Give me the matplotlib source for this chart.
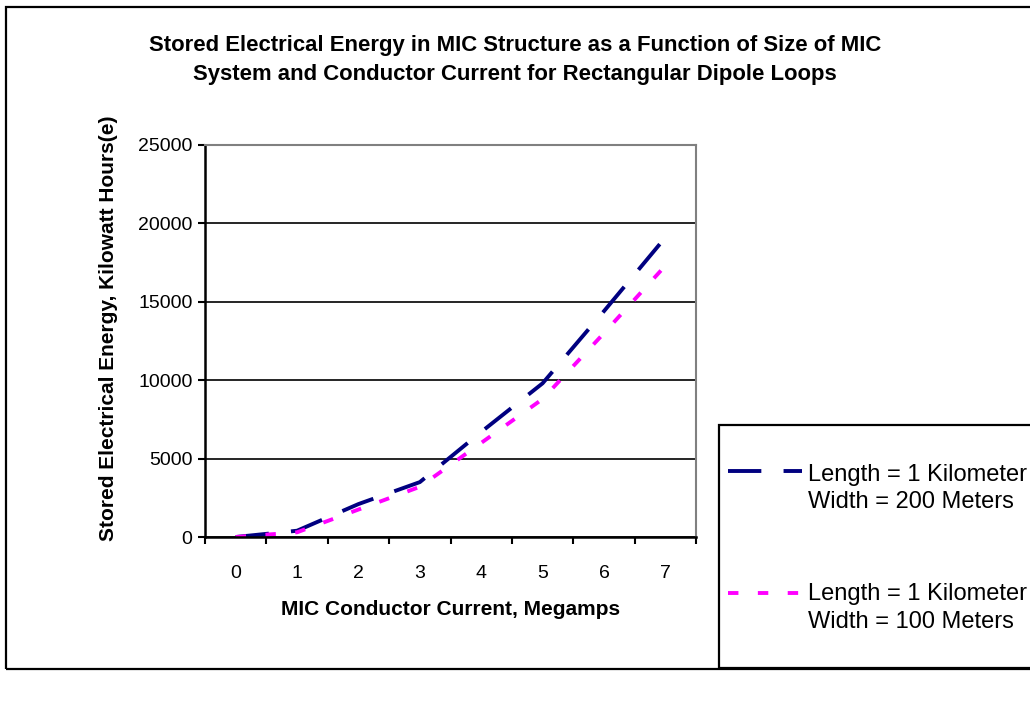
import numpy as np
import matplotlib
matplotlib.use("Agg")
from matplotlib import pyplot as plt
from matplotlib.patches import Rectangle
from matplotlib.lines import Line2D

plt.rcParams['font.family'] = ['Liberation Sans', 'DejaVu Sans']

# datos
corriente = [0, 1, 2, 3, 4, 5, 6, 7]
energia_200m = [0, 400, 2100, 3500, 6700, 9800, 14400, 19100]
energia_100m = [0, 300, 1750, 3200, 6000, 8800, 13000, 17300]
etiquetas = ["Length = 1 Kilometer\nWidth = 200 Meters",
             "Length = 1 Kilometer\nWidth = 100 Meters"]
yticks = [0, 5000, 10000, 15000, 20000, 25000]

W, H = 1030, 702
AZUL = '#000080'
MAGENTA = '#FF00FF'
LW = 2.8
fig = plt.figure(figsize=(W / 100, H / 100), dpi=100)

# pasar pixeles (desde arriba a la izquierda) a coordenadas de figura
def fx(x):
    return x / W

def fy(y):
    return 1 - y / H

# borde exterior del grafico (se sale por la derecha)
fig.patches.append(Rectangle((fx(6), fy(669)), 1.1, (669 - 7) / H,
                             transform=fig.transFigure, fill=False,
                             edgecolor='black', linewidth=1.6, clip_on=False))

ax = fig.add_axes([fx(205), fy(537), (696 - 205) / W, (537 - 145) / H])

estilo_azul = dict(color=AZUL, linewidth=LW, dashes=(24 / LW, 16 / LW), dash_capstyle='butt')
estilo_mag = dict(color=MAGENTA, linewidth=LW, dashes=(7.5 / LW, 14 / LW), dash_capstyle='butt')

ax.plot(corriente, energia_200m, **estilo_azul)
ax.plot(corriente, energia_100m, **estilo_mag)

ax.set_xlim(-0.5, 7.5)
ax.set_ylim(0, 25000)
ax.set_xticks(corriente)
ax.set_xticks(np.arange(-0.5, 8, 1), minor=True)
ax.tick_params(axis='x', which='major', length=0, labelsize=14, pad=20)
ax.tick_params(axis='x', which='minor', length=5, width=1.5, direction='out')
ax.set_yticks(yticks)
ax.tick_params(axis='y', length=5, width=1.5, direction='out', labelsize=14, pad=4)

ax.grid(axis='y', color='black', linewidth=1.2)
ax.set_axisbelow(True)
for s in ['top', 'right']:
    ax.spines[s].set_color('#808080')
    ax.spines[s].set_linewidth(1.5)
for s in ['left', 'bottom']:
    ax.spines[s].set_color('black')
    ax.spines[s].set_linewidth(1.8)

ax.set_xlabel("MIC Conductor Current, Megamps", fontsize=15, fontweight='bold', labelpad=13)
ax.set_ylabel("Stored Electrical Energy, Kilowatt Hours(e)", fontsize=15, fontweight='bold')
ax.yaxis.set_label_coords((118 - 205) / 491, (537 - 328) / 392)

fig.text(fx(515), fy(60),
         "Stored Electrical Energy in MIC Structure as a Function of Size of MIC\n"
         "System and Conductor Current for Rectangular Dipole Loops",
         ha='center', va='center', fontsize=15.9, fontweight='bold', linespacing=1.5)

# leyenda dibujada a mano para que la muestra quede a la altura de la primera linea
fig.patches.append(Rectangle((fx(719), fy(668)), 1.0, (668 - 425) / H,
                             transform=fig.transFigure, fill=False,
                             edgecolor='black', linewidth=1.6, clip_on=False))
for estilo, etiqueta, y_linea, y_texto in [(estilo_azul, etiquetas[0], 471, 488.5),
                                           (estilo_mag, etiquetas[1], 593, 608)]:
    fig.lines.append(Line2D([fx(728), fx(802)], [fy(y_linea), fy(y_linea)],
                            transform=fig.transFigure, **estilo))
    fig.text(fx(808), fy(y_texto), etiqueta, ha='left', va='center',
             fontsize=17, linespacing=1.33)

fig.savefig("out.png", dpi=100)
